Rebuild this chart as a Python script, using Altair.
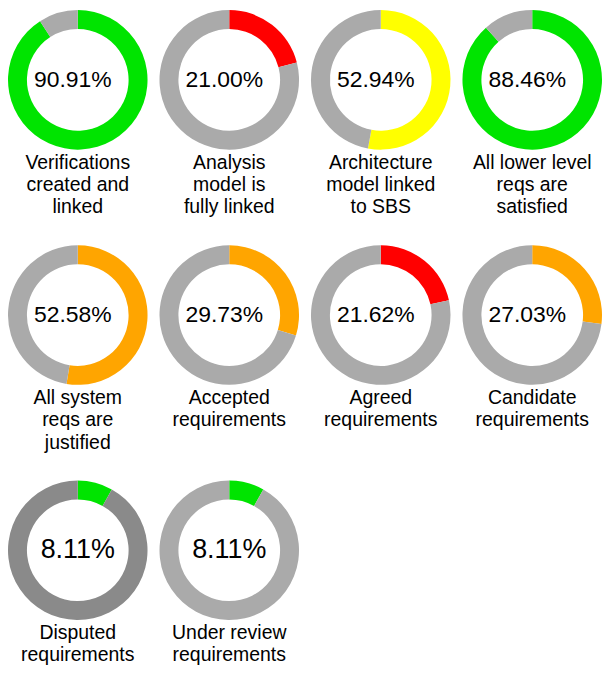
import altair as alt
import pandas as pd

names = [
    "Verifications\ncreated and\nlinked",
    "Analysis\nmodel is\nfully linked",
    "Architecture\nmodel linked\nto SBS",
    "All lower level\nreqs are\nsatisfied",
    "All system\nreqs are\njustified",
    "Accepted\nrequirements",
    "Agreed\nrequirements",
    "Candidate\nrequirements",
    "Disputed\nrequirements",
    "Under review\nrequirements",
]
values = [90.91, 21.00, 52.94, 88.46, 52.58, 29.73, 21.62, 27.03, 8.11, 8.11]
fill_colors = ["#00e400", "#ff0000", "#ffff00", "#00e400", "#ffa500",
               "#ffa500", "#ff0000", "#ffa500", "#00e400", "#00e400"]
rest_colors = ["#aaaaaa"] * 8 + ["#8a8a8a", "#aaaaaa"]

rows = []
for i, (n, v, c, r) in enumerate(zip(names, values, fill_colors, rest_colors)):
    rows.append({"name": n, "idx": i, "part": 0, "value": v, "color": c})
    rows.append({"name": n, "idx": i, "part": 1, "value": round(100 - v, 2), "color": r})
df = pd.DataFrame(rows)

FONT = "Liberation Sans"
CX, CY = 70, 69

arc = alt.Chart().mark_arc(innerRadius=51, outerRadius=70, x=CX, y=CY).encode(
    theta=alt.Theta("value:Q", stack=True),
    order=alt.Order("part:Q"),
    color=alt.Color("color:N", scale=None),
)

pct_base = alt.Chart().transform_filter("datum.part == 0").transform_calculate(
    pct="format(datum.value, '.2f') + '%'"
)
pct_long = pct_base.transform_filter("length(datum.pct) > 5").mark_text(
    x=CX, y=CY, dx=-5, align="center", baseline="middle", font=FONT,
    fontSize=23, color="#000000"
).encode(text="pct:N")
pct_short = pct_base.transform_filter("length(datum.pct) <= 5").mark_text(
    x=CX, y=CY, align="center", baseline="middle", font=FONT,
    fontSize=27, color="#000000"
).encode(text="pct:N")

label = alt.Chart().transform_filter("datum.part == 0").mark_text(
    x=CX, y=158, align="center", baseline="alphabetic", font=FONT, fontSize=19.5,
    lineBreak="\n", lineHeight=22.5, color="#000000"
).encode(text="name:N")

chart = alt.layer(arc, pct_long, pct_short, label, data=df).properties(
    width=140, height=150
).facet(
    facet=alt.Facet("name:N", sort=names, title=None,
                    header=alt.Header(labels=False, labelExpr="''", labelFontSize=1,
                                      labelPadding=0, titlePadding=0)),
    columns=4,
    spacing={"row": 86, "column": 12},
    bounds="flush",
).properties(padding=0).configure_view(strokeWidth=0)

chart.save("out.html", embed_options={"renderer": "svg", "actions": False})
